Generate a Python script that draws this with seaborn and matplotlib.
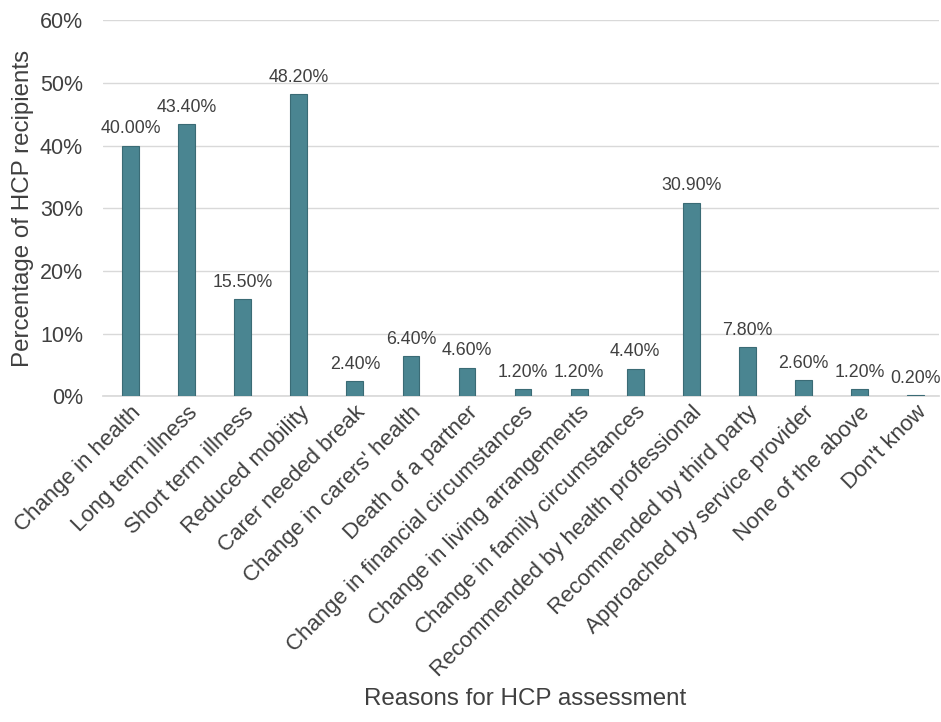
import matplotlib
matplotlib.use("Agg")
import matplotlib.pyplot as plt
import seaborn as sns
import pandas as pd
from matplotlib.ticker import FuncFormatter

reasons = [
    "Change in health", "Long term illness", "Short term illness", "Reduced mobility",
    "Carer needed break", "Change in carers' health", "Death of a partner",
    "Change in financial circumstances", "Change in living arrangements",
    "Change in family circumstances", "Recommended by health professional",
    "Recommended by third party", "Approached by service provider",
    "None of the above", "Don't know",
]
percentages = [40.0, 43.4, 15.5, 48.2, 2.4, 6.4, 4.6, 1.2, 1.2, 4.4, 30.9, 7.8, 2.6, 1.2, 0.2]
y_ticks = [0, 10, 20, 30, 40, 50, 60]

df = pd.DataFrame({"reason": reasons, "pct": percentages})

sns.set_theme(style="white")
plt.rcParams["font.family"] = ["Liberation Sans", "DejaVu Sans"]

fig = plt.figure(figsize=(9.41, 7.22), dpi=100)
ax = fig.add_axes([0.109, 0.451, 0.889, 0.521])

bar_color = "#4a8591"
sns.barplot(data=df, x="reason", y="pct", color=bar_color, width=0.3,
            edgecolor="#3a6b75", linewidth=0.8, saturation=1, ax=ax, zorder=3)

for i, v in enumerate(percentages):
    ax.annotate(f"{v:.2f}%", (i, v), xytext=(0, 6), textcoords="offset points",
                ha="center", va="bottom", fontsize=12.8, color="#404040")

ax.set_ylim(0, 60)
ax.set_xlim(-0.5, 14.42)
ax.set_yticks(y_ticks)
ax.yaxis.set_major_formatter(FuncFormatter(lambda v, p: f"{v:.0f}%"))
ax.yaxis.grid(True, color="#d9d9d9", linewidth=1, zorder=0)
ax.xaxis.grid(False)
for side in ["top", "right", "left"]:
    ax.spines[side].set_visible(False)
ax.spines["bottom"].set_color("#d9d9d9")
ax.tick_params(axis="y", length=0, labelsize=15.5, labelcolor="#404040", pad=14)
ax.tick_params(axis="x", length=0, labelsize=16, labelcolor="#404040", pad=4)
plt.setp(ax.get_xticklabels(), rotation=45, ha="right", rotation_mode="anchor")

ax.set_xlabel("")
ax.set_ylabel("Percentage of HCP recipients", fontsize=17.4, color="#404040")
ax.yaxis.set_label_coords(-0.082, 0.5)
fig.text(0.558, 0.017, "Reasons for HCP assessment", ha="center", va="bottom",
         fontsize=17.4, color="#404040")

fig.savefig("out.png", dpi=100)
